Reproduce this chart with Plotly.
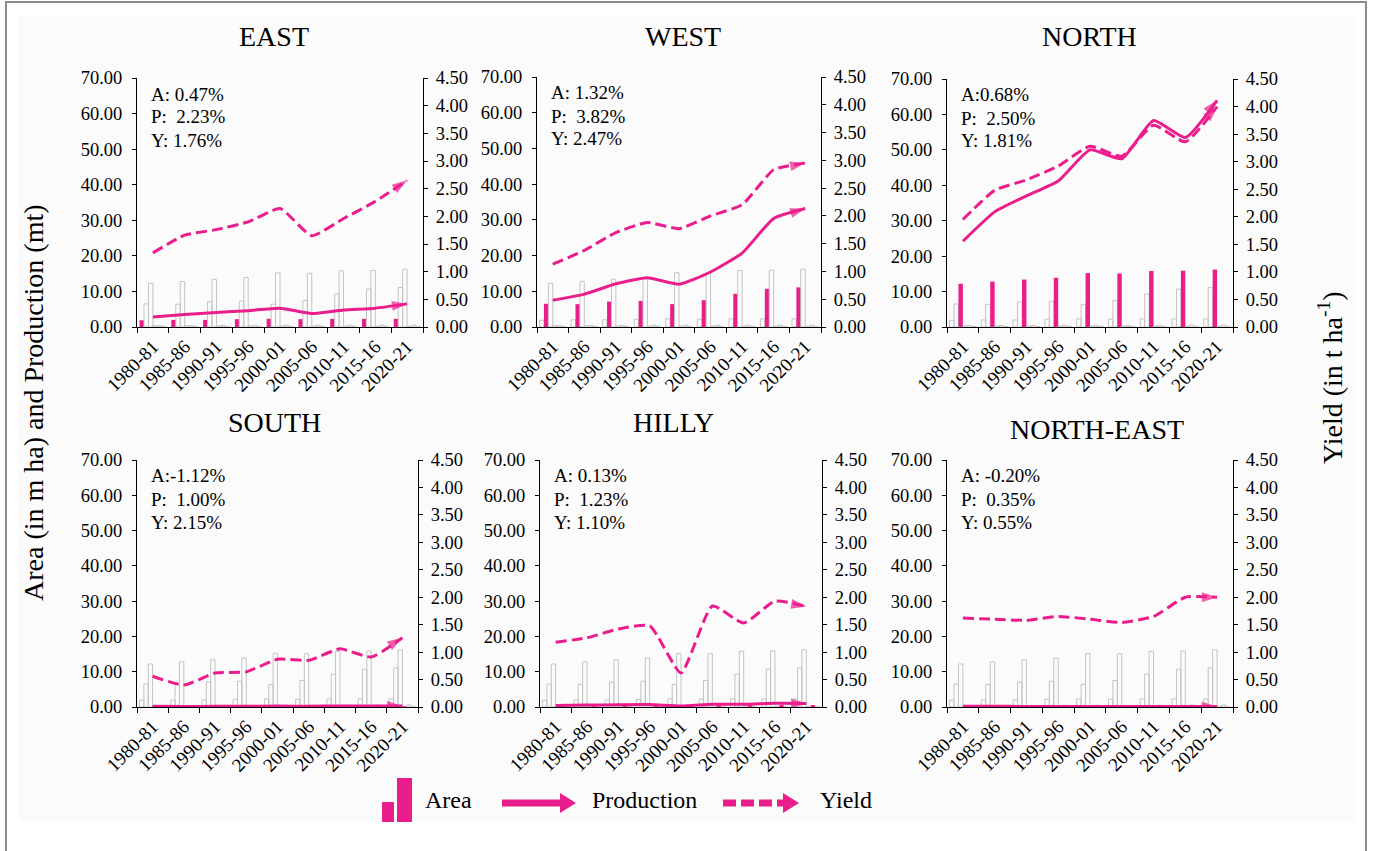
import plotly.graph_objects as go

# ---------------- data ----------------
years = ["1980-81", "1985-86", "1990-91", "1995-96", "2000-01",
         "2005-06", "2010-11", "2015-16", "2020-21"]
regions = ["EAST", "WEST", "NORTH", "SOUTH", "HILLY", "NORTH-EAST"]

# Area (m ha)
area_east = [1.9, 2.0, 2.0, 2.2, 2.3, 2.2, 2.3, 2.3, 2.3]
area_west = [6.5, 6.4, 7.1, 7.3, 6.4, 7.5, 9.3, 10.7, 11.1]
area_north = [12.2, 12.8, 13.4, 13.9, 15.2, 15.1, 15.8, 15.9, 16.2]
area_south = [0.35, 0.35, 0.30, 0.30, 0.28, 0.25, 0.25, 0.22, 0.22]
area_hilly = [0.40, 0.42, 0.45, 0.48, 0.50, 0.45, 0.50, 0.55, 0.55]
area_ne = [0.12, 0.12, 0.10, 0.10, 0.10, 0.08, 0.07, 0.06, 0.06]

# Production (mt)
prod_east = [2.8, 3.5, 4.1, 4.6, 5.3, 3.8, 4.8, 5.3, 6.5]
prod_west = [7.5, 9.2, 12.1, 13.8, 12.0, 15.4, 20.7, 30.4, 33.2]
prod_north = [24.2, 32.5, 37.0, 41.2, 50.0, 47.5, 58.3, 53.5, 64.0]
prod_south = [0.20, 0.15, 0.20, 0.20, 0.25, 0.20, 0.30, 0.25, 0.30]
prod_hilly = [0.45, 0.55, 0.65, 0.70, 0.30, 0.80, 0.75, 1.05, 1.00]
prod_ne = [0.20, 0.20, 0.16, 0.17, 0.16, 0.12, 0.12, 0.12, 0.12]

# Yield (t/ha)
yield_east = [1.34, 1.66, 1.76, 1.90, 2.14, 1.65, 1.96, 2.27, 2.65]
yield_west = [1.13, 1.38, 1.70, 1.88, 1.77, 2.00, 2.20, 2.83, 2.95]
yield_north = [1.95, 2.48, 2.67, 2.92, 3.28, 3.10, 3.66, 3.36, 4.00]
yield_south = [0.56, 0.40, 0.62, 0.64, 0.87, 0.85, 1.06, 0.91, 1.26]
yield_hilly = [1.18, 1.26, 1.42, 1.48, 0.62, 1.84, 1.53, 1.93, 1.83]
yield_ne = [1.62, 1.60, 1.58, 1.65, 1.60, 1.54, 1.65, 2.00, 2.00]

# Compound growth rates
growth_east = ["A: 0.47%", "P:  2.23%", "Y: 1.76%"]
growth_west = ["A: 1.32%", "P:  3.82%", "Y: 2.47%"]
growth_north = ["A:0.68%", "P:  2.50%", "Y: 1.81%"]
growth_south = ["A:-1.12%", "P:  1.00%", "Y: 2.15%"]
growth_hilly = ["A: 0.13%", "P:  1.23%", "Y: 1.10%"]
growth_ne = ["A: -0.20%", "P:  0.35%", "Y: 0.55%"]

areas = [area_east, area_west, area_north, area_south, area_hilly, area_ne]
prods = [prod_east, prod_west, prod_north, prod_south, prod_hilly, prod_ne]
yields = [yield_east, yield_west, yield_north, yield_south, yield_hilly, yield_ne]
growths = [growth_east, growth_west, growth_north, growth_south, growth_hilly, growth_ne]

# ---------------- styling ----------------
W, H = 1373, 851
MAG = "#E91E8C"
GHOST = "#c4c4c4"
FONT = "Liberation Serif, Times New Roman, serif"


def fx(px):
    return px / W


def fy(py):
    return 1 - py / H


# panel boxes in pixels: left, right, top, bottom
boxes = [
    (137, 423, 78, 327),
    (537, 821, 77, 327),
    (947, 1233, 79, 327),
    (137, 418, 460, 707),
    (540, 822, 460, 707),
    (947, 1233, 460, 707),
]
title_pos = [(274, 36), (683, 37), (1089, 37), (274, 422), (673, 422), (1097, 430)]

fig = go.Figure()
layout = dict(
    template="none",
    width=W, height=H, autosize=False,
    margin=dict(l=0, r=0, t=0, b=0, pad=0),
    paper_bgcolor="white", plot_bgcolor="rgba(0,0,0,0)",
    font=dict(family=FONT, color="black", size=17),
    barmode="group", bargap=0.16, bargroupgap=0,
    showlegend=False, hovermode=False,
)
annotations = []
shapes = []

for i, (l, r, t, b) in enumerate(boxes):
    n = i + 1
    xa = "x" if n == 1 else f"x{n}"
    ya = "y" if n == 1 else f"y{n}"
    ya2 = f"y{n + 6}"

    layout[f"xaxis{n}" if n > 1 else "xaxis"] = dict(
        domain=[fx(l), fx(r)], anchor=ya, type="category",
        range=[-0.5, len(years) - 0.5], automargin=False,
        showline=True, linecolor="black", linewidth=1,
        ticks="outside", tickson="boundaries", ticklen=5, tickcolor="black",
        tickangle=-45, tickfont=dict(size=19, family=FONT),
        showgrid=False, zeroline=False, fixedrange=True,
    )
    layout[f"yaxis{n}" if n > 1 else "yaxis"] = dict(
        domain=[fy(b), fy(t)], anchor=xa, range=[0, 70], dtick=10,
        tickformat=".2f", automargin=False,
        showline=True, linecolor="black", linewidth=1,
        ticks="outside", ticklen=4, tickcolor="black", ticklabelstandoff=6,
        tickfont=dict(size=18.5, family=FONT),
        showgrid=False, zeroline=False, fixedrange=True,
    )
    layout[f"yaxis{n + 6}"] = dict(
        overlaying=ya, side="right", anchor=xa, range=[0, 4.5], dtick=0.5,
        tickformat=".2f", automargin=False,
        showline=True, linecolor="black", linewidth=1,
        ticks="outside", ticklen=4, tickcolor="black", ticklabelstandoff=4,
        tickfont=dict(size=18.5, family=FONT),
        showgrid=False, zeroline=False, fixedrange=True,
    )

    # area bars for all regions, this panel's region highlighted
    for j, ar in enumerate(areas):
        hl = (j == i)
        fig.add_trace(go.Bar(
            x=years, y=ar, xaxis=xa, yaxis=ya,
            marker=dict(color=MAG if hl else "rgba(255,255,255,0)",
                        line=dict(color=MAG if hl else GHOST, width=0 if hl else 1)),
        ))

    npts = len(years)
    arrow_marker = dict(
        symbol=["circle"] * (npts - 1) + ["arrow"],
        size=[0] * (npts - 1) + [16],
        angleref="previous", color=MAG, line=dict(width=0),
    )
    # production (left axis)
    fig.add_trace(go.Scatter(
        x=years, y=prods[i], xaxis=xa, yaxis=ya, mode="lines+markers",
        line=dict(color=MAG, width=3, shape="spline", smoothing=0.5),
        marker=arrow_marker,
    ))
    # yield (right axis)
    fig.add_trace(go.Scatter(
        x=years, y=yields[i], xaxis=xa, yaxis=ya2, mode="lines+markers",
        line=dict(color=MAG, width=3, dash="11px,5px", shape="spline", smoothing=0.5),
        marker=arrow_marker,
    ))

    # panel title
    tx, ty = title_pos[i]
    annotations.append(dict(
        x=fx(tx), y=fy(ty), xref="paper", yref="paper", text=regions[i],
        showarrow=False, xanchor="center", yanchor="middle",
        font=dict(size=28, family=FONT),
    ))
    # growth rates
    for k, line in enumerate(growths[i]):
        annotations.append(dict(
            x=fx(l + 12), y=fy(t + 16 + 23 * k), xref="paper", yref="paper",
            text=line.replace(" ", "\u00a0"), showarrow=False,
            xanchor="left", yanchor="middle", font=dict(size=19, family=FONT),
        ))

# shared axis titles
annotations.append(dict(
    x=fx(33), y=fy(403), xref="paper", yref="paper", textangle=-90,
    text="Area (in m ha) and Production (mt)", showarrow=False,
    xanchor="center", yanchor="middle", font=dict(size=28, family=FONT),
))
annotations.append(dict(
    x=fx(1330), y=fy(378), xref="paper", yref="paper", textangle=-90,
    text="Yield (in t ha<sup>-1</sup>)", showarrow=False,
    xanchor="center", yanchor="middle", font=dict(size=28, family=FONT),
))

# legend
for txt, x0 in [("Area", 423), ("Production", 590), ("Yield", 818)]:
    annotations.append(dict(
        x=fx(x0), y=fy(800), xref="paper", yref="paper", text=txt,
        showarrow=False, xanchor="left", yanchor="middle",
        font=dict(size=24, family=FONT),
    ))

# page frame and light inner panel
shapes.append(dict(type="rect", xref="paper", yref="paper", layer="below",
                   x0=fx(18), x1=fx(1355), y0=fy(822), y1=fy(17),
                   fillcolor="#fbfbfb", line=dict(width=0)))
shapes.append(dict(type="rect", xref="paper", yref="paper", layer="above",
                   x0=fx(6), x1=fx(1366), y0=fy(860), y1=fy(2),
                   fillcolor="rgba(0,0,0,0)", line=dict(color="#8c8c8c", width=2)))

# legend symbols
shapes.append(dict(type="rect", xref="paper", yref="paper",
                   x0=fx(382), x1=fx(394), y0=fy(822), y1=fy(802),
                   fillcolor=MAG, line=dict(width=0)))
shapes.append(dict(type="rect", xref="paper", yref="paper",
                   x0=fx(397), x1=fx(412), y0=fy(822), y1=fy(778),
                   fillcolor=MAG, line=dict(width=0)))
shapes.append(dict(type="line", xref="paper", yref="paper",
                   x0=fx(502), x1=fx(562), y0=fy(803), y1=fy(803),
                   line=dict(color=MAG, width=7)))
shapes.append(dict(type="path", xref="paper", yref="paper",
                   path=f"M {fx(560)} {fy(793)} L {fx(576)} {fy(803)} L {fx(560)} {fy(813)} Z",
                   fillcolor=MAG, line=dict(width=0)))
shapes.append(dict(type="line", xref="paper", yref="paper",
                   x0=fx(723), x1=fx(784), y0=fy(803), y1=fy(803),
                   line=dict(color=MAG, width=7, dash="13px,5px")))
shapes.append(dict(type="path", xref="paper", yref="paper",
                   path=f"M {fx(783)} {fy(793)} L {fx(799)} {fy(803)} L {fx(783)} {fy(813)} Z",
                   fillcolor=MAG, line=dict(width=0)))

layout["annotations"] = annotations
layout["shapes"] = shapes
fig.update_layout(**layout)

fig.write_html("out.html", config={"displayModeBar": False, "staticPlot": True})
